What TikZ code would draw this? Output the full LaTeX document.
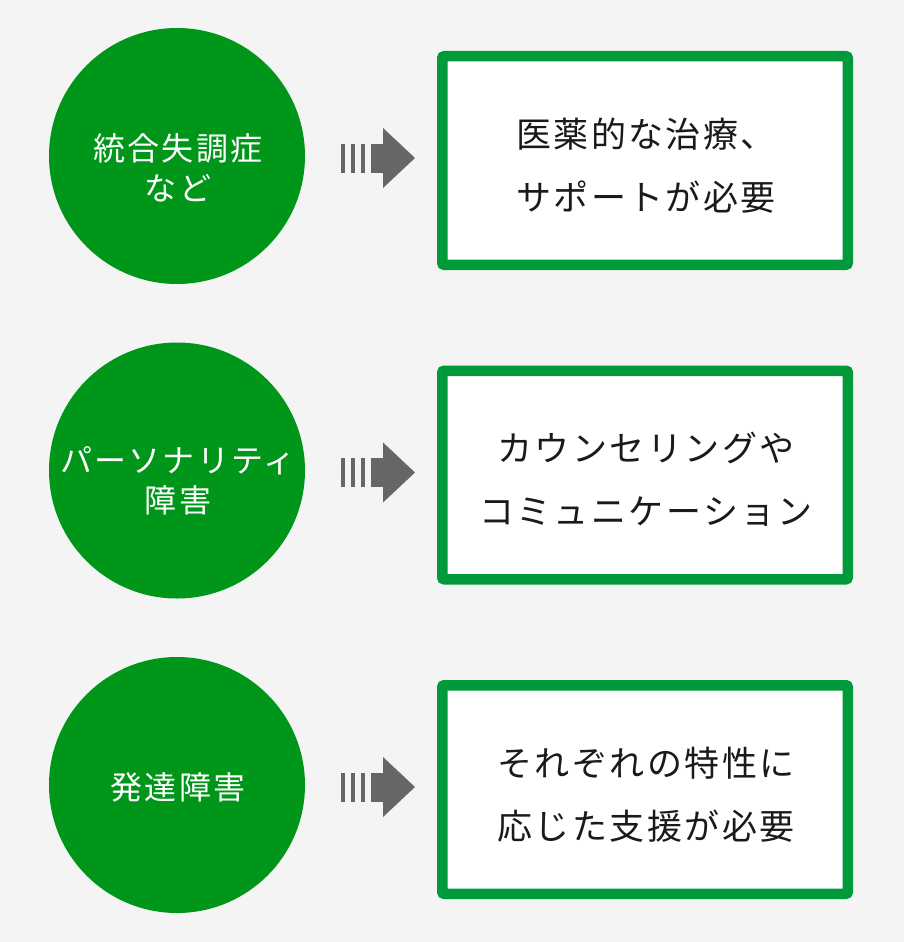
\documentclass[tikz,border=0pt]{standalone}
\usepackage{fontspec}
\usepackage{tikz}
\newfontfamily\jpfont[LetterSpace=7]{Noto Sans CJK JP}
\definecolor{bgcol}{HTML}{F4F4F4}
\definecolor{circgreen}{HTML}{00961A}
\definecolor{boxgreen}{HTML}{009A3A}
\definecolor{arrgray}{HTML}{666666}
\definecolor{txtcol}{HTML}{1A1A1A}

\begin{document}
\begin{tikzpicture}[x=1pt,y=1pt]
\tikzstyle{every node}+=[inner sep=0pt]
\tikzstyle{disorder}=[circle, fill=circgreen, minimum size=256pt]
\tikzstyle{disotext}=[text=white, align=center, xshift=1pt, font={\jpfont\fontsize{32}{40}\selectfont}]
\tikzstyle{helpbox}=[draw=boxgreen, line width=10.5pt, rounded corners=2pt, fill=white, minimum width=405.5pt, minimum height=208.5pt]
\tikzstyle{helptext}=[text=txtcol, align=center, xshift=1pt, font={\jpfont\fontsize{35}{63}\selectfont}]
\tikzset{blockarrow/.pic={
  \fill [arrgray] (-37,-14.5) rectangle (-33,14.5);
  \fill [arrgray] (-27,-14.5) rectangle (-23,14.5);
  \fill [arrgray] (-17,-14.5) rectangle (-13,14.5);
  \fill [arrgray] (-7,-14.5) rectangle (6,14.5);
  \fill [arrgray] (5,30) -- (37,0) -- (5,-30) -- cycle;
}}
% background, fixes the size
\fill [bgcol] (0,0) rectangle (904,-942);
% first row
\node [disorder] (schizo) at (177,-156) {};
\node [disotext] (schizotext) at (177,-168) {統合失調症\\など};
\node [helpbox] (medical) at (645,-160.5) {};
\node [helptext] (medicaltext) at (645,-166) {医薬的な治療、\\サポートが必要};
\coordinate (arr1) at (378,-158);
\pic at (arr1) {blockarrow};
% second row
\node [disorder] (persona) at (177,-470.5) {};
\node [disotext] (personatext) at (177,-481) {パーソナリティ\\障害};
\node [helpbox] (counsel) at (645,-475) {};
\node [helptext] (counseltext) at (645,-479) {カウンセリングや\\コミュニケーション};
\coordinate (arr2) at (378,-472.5);
\pic at (arr2) {blockarrow};
% third row
\node [disorder] (develop) at (177,-785) {};
\node [disotext] (developtext) at (177,-787) {発達障害};
\node [helpbox] (support) at (645,-789.5) {};
\node [helptext] (supporttext) at (645,-795) {それぞれの特性に\\応じた支援が必要};
\coordinate (arr3) at (378,-787);
\pic at (arr3) {blockarrow};
\end{tikzpicture}
\end{document}
